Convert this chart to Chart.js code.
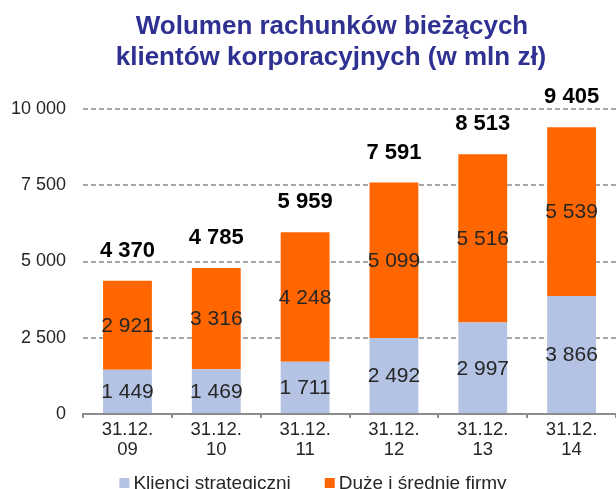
<!DOCTYPE html>
<html>
<head>
<meta charset="utf-8">
<script src="https://cdn.jsdelivr.net/npm/chart.js@4/dist/chart.umd.min.js"></script>
<style>
html,body{margin:0;padding:0;background:#fff;}
canvas{display:block;}
</style>
</head>
<body>
<canvas id="c" width="616" height="489"></canvas>
<script>
const categories = [['31.12.','09'],['31.12.','10'],['31.12.','11'],['31.12.','12'],['31.12.','13'],['31.12.','14']];
const strategic = [1449, 1469, 1711, 2492, 2997, 3866];
const largeMedium = [2921, 3316, 4248, 5099, 5516, 5539];
const totals = [4370, 4785, 5959, 7591, 8513, 9405];
const seriesNames = ['Klienci strategiczni', 'Duże i średnie firmy'];
const titleLines = ['Wolumen rachunków bieżących', 'klientów korporacyjnych (w mln zł)'];

const FONT = '"Liberation Sans", Arial, sans-serif';
const fmt = n => String(n).replace(/\B(?=(\d{3})+(?!\d))/g, ' ');

const labelPlugin = {
  id: 'labels',
  afterDatasetsDraw(chart) {
    const ctx = chart.ctx;
    ctx.save();
    ctx.textAlign = 'center';
    ctx.textBaseline = 'middle';
    ctx.fillStyle = '#262626';
    ctx.font = '21px ' + FONT;
    chart.data.datasets.forEach((ds, di) => {
      const meta = chart.getDatasetMeta(di);
      meta.data.forEach((el, i) => {
        const cy = (el.y + el.base) / 2;
        ctx.fillText(fmt(ds.data[i]), el.x, cy + 1);
      });
    });
    const ys = chart.scales.y;
    const meta0 = chart.getDatasetMeta(0);
    ctx.fillStyle = '#000';
    ctx.font = 'bold 22px ' + FONT;
    totals.forEach((t, i) => {
      ctx.fillText(fmt(t), meta0.data[i].x, ys.getPixelForValue(t) - 30);
    });
    // title
    ctx.fillStyle = '#2e3192';
    ctx.font = 'bold 26px ' + FONT;
    ctx.fillText(titleLines[0], 332, 27);
    ctx.fillText(titleLines[1], 331, 58);
    // legend
    ctx.font = '19px ' + FONT;
    ctx.textAlign = 'left';
    const box = 10, gapBoxText = 4, gapItems = 34;
    const widths = chart.data.datasets.map(ds => box + gapBoxText + ctx.measureText(ds.label).width);
    const total = widths.reduce((a, b) => a + b, 0) + gapItems * (widths.length - 1);
    let x = 313 - total / 2;
    const ly = 483;
    chart.data.datasets.forEach((ds, i) => {
      ctx.fillStyle = ds.backgroundColor;
      ctx.fillRect(x, ly - 5, box, box);
      ctx.fillStyle = '#262626';
      ctx.fillText(ds.label, x + box + gapBoxText, ly + 1);
      x += widths[i] + gapItems;
    });
    ctx.restore();
  }
};

new Chart(document.getElementById('c'), {
  type: 'bar',
  data: {
    labels: categories,
    datasets: [
      { label: seriesNames[0], data: strategic, backgroundColor: '#b4c3e3', barPercentage: 0.55, categoryPercentage: 1.0 },
      { label: seriesNames[1], data: largeMedium, backgroundColor: '#ff6600', barPercentage: 0.55, categoryPercentage: 1.0 }
    ]
  },
  options: {
    responsive: false,
    devicePixelRatio: 1,
    animation: false,
    layout: { padding: { top: 109, right: -2, left: -6, bottom: 27 } },
    plugins: {
      title: { display: false },
      tooltip: { enabled: false },
      legend: { display: false }
    },
    scales: {
      x: {
        stacked: true,
        grid: { display: true, drawOnChartArea: false, drawTicks: true, tickLength: 4, color: '#8c8c8c', lineWidth: 2, offset: true },
        border: { display: true, color: '#8c8c8c', width: 2 },
        ticks: { color: '#262626', font: { size: 18.5, family: FONT, lineHeight: 1.08 }, padding: 2, maxRotation: 0 }
      },
      y: {
        stacked: true,
        min: 0, max: 10000,
        ticks: { stepSize: 2500, color: '#262626', font: { size: 18, family: FONT }, padding: 17, callback: v => fmt(v) },
        grid: { color: ctx => ctx.tick.value === 0 ? 'rgba(0,0,0,0)' : '#a6a6a6', lineWidth: 2, drawTicks: false },
        border: { display: false, dash: [5, 3] }
      }
    }
  },
  plugins: [labelPlugin]
});
</script>
</body>
</html>
